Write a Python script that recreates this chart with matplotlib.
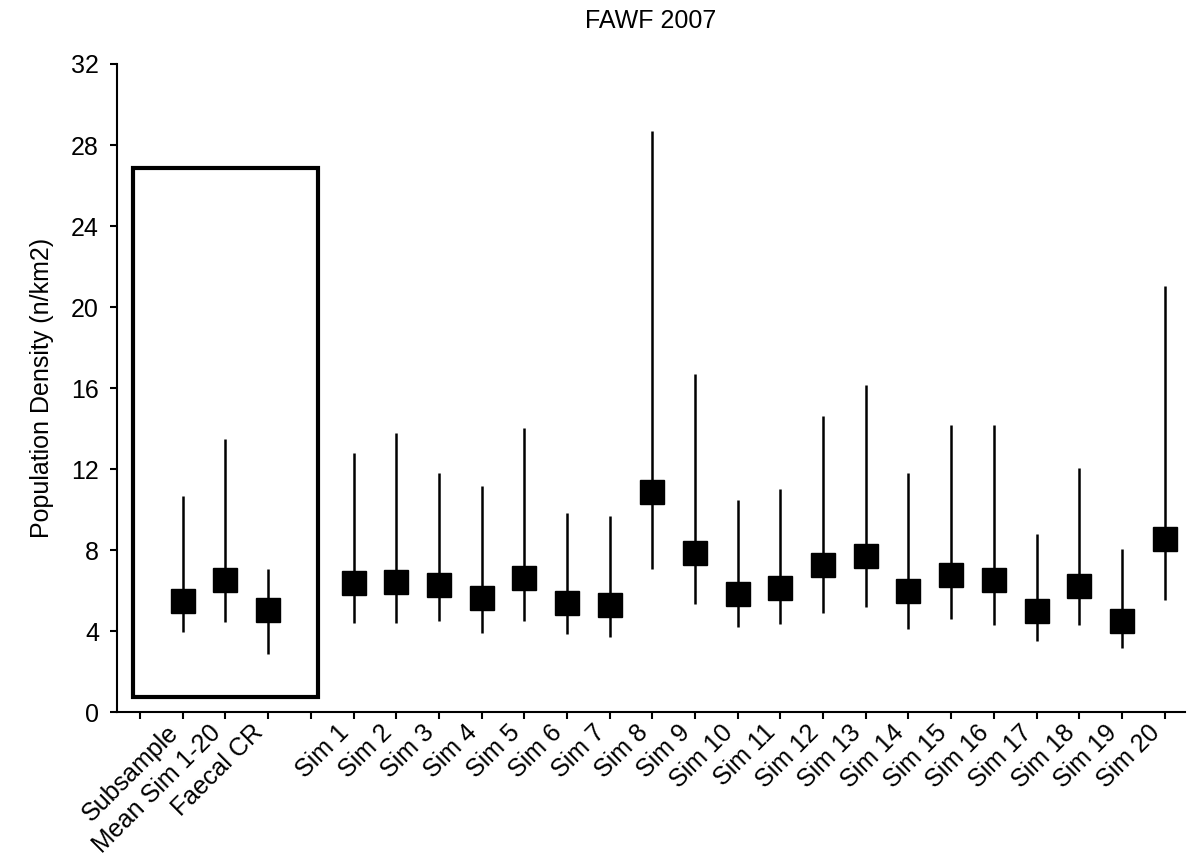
import matplotlib
matplotlib.use("Agg")
import matplotlib.pyplot as plt
from matplotlib.patches import Rectangle

plt.rcParams['font.family'] = ['Liberation Sans', 'DejaVu Sans']

# estimates (square) with lower / upper limits (whiskers)
groups = ['Subsample', 'Mean Sim 1-20', 'Faecal CR']
sims = ['Sim 1', 'Sim 2', 'Sim 3', 'Sim 4', 'Sim 5', 'Sim 6', 'Sim 7', 'Sim 8',
        'Sim 9', 'Sim 10', 'Sim 11', 'Sim 12', 'Sim 13', 'Sim 14', 'Sim 15',
        'Sim 16', 'Sim 17', 'Sim 18', 'Sim 19', 'Sim 20']

est = [5.5, 6.5, 5.05,
       6.35, 6.4, 6.25, 5.65, 6.6, 5.4, 5.3, 10.85, 7.85, 5.85,
       6.1, 7.25, 7.7, 6.0, 6.75, 6.5, 5.0, 6.2, 4.5, 8.55]
lower = [3.97, 4.46, 2.86,
         4.41, 4.41, 4.51, 3.92, 4.51, 3.85, 3.72, 7.05, 5.35, 4.2,
         4.35, 4.9, 5.2, 4.08, 4.61, 4.28, 3.52, 4.28, 3.14, 5.53]
upper = [10.68, 13.5, 7.05,
         12.77, 13.79, 11.82, 11.18, 14.01, 9.81, 9.68, 28.7, 16.7, 10.45,
         11.0, 14.6, 16.15, 11.82, 14.17, 14.17, 8.79, 12.05, 8.03, 21.05]

# blank slots before the groups and between groups and sims
tick_labels = [''] + groups + [''] + sims
xs = [1, 2, 3] + list(range(5, 5 + len(sims)))

fig = plt.figure(figsize=(11.87, 8.66), dpi=100)
ax = fig.add_axes([0.0986, 0.1778, 0.8994, 0.7483])

ax.vlines(xs, lower, upper, color='black', lw=1.8, zorder=2)
ax.plot(xs, est, 's', color='black', ms=17, zorder=3)

# frame around the summary estimates
ax.add_patch(Rectangle((-0.157, 0.72), 4.314, 26.13, fill=False,
                       edgecolor='black', lw=3, zorder=1))

ax.set_xlim(-0.54, 24.47)
ax.set_ylim(0, 32)
ax.set_yticks(range(0, 33, 4))
ax.set_xticks(range(len(tick_labels)))
ax.set_xticklabels(tick_labels, rotation=45, ha='right')

for side in ['top', 'right']:
    ax.spines[side].set_visible(False)
for side in ['left', 'bottom']:
    ax.spines[side].set_linewidth(1.5)
ax.tick_params(axis='both', direction='out', length=5, width=1.5,
               labelsize=18, colors='black')
ax.tick_params(axis='x', pad=1)
ax.tick_params(axis='y', pad=8)

ax.set_ylabel('Population Density (n/km2)', fontsize=18, labelpad=12)
ax.set_title('FAWF 2007', fontsize=18, pad=26)

fig.savefig('out.png', dpi=100)
